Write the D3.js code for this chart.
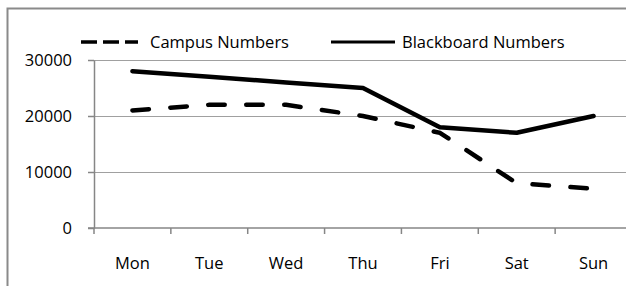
<!DOCTYPE html>
<html>
<head>
<meta charset="utf-8">
<script src="https://cdn.jsdelivr.net/npm/d3@7"></script>
<style>
  body { margin: 0; background: #fff; }
  text { font-family: "Open Sans", sans-serif; font-size: 16.5px; fill: #000; }
</style>
</head>
<body>
<script>
// data
var days = ['Mon', 'Tue', 'Wed', 'Thu', 'Fri', 'Sat', 'Sun'];
var campus = [21000, 22000, 22000, 20000, 17000, 8000, 7000];
var blackboard = [28000, 27000, 26000, 25000, 18000, 17000, 20000];
var yTicks = [0, 10000, 20000, 30000];
var seriesNames = ['Campus Numbers', 'Blackboard Numbers'];

var svg = d3.select('body').append('svg')
  .attr('width', 626)
  .attr('height', 286);

// chart frame (runs off the right and bottom edge)
svg.append('rect')
  .attr('x', 7.5).attr('y', 8.5)
  .attr('width', 700).attr('height', 400)
  .attr('fill', 'none')
  .attr('stroke', '#8a8a8a')
  .attr('stroke-width', 2);

var x = d3.scaleBand().domain(days).range([94, 632]);
var y = d3.scaleLinear().domain([0, 30000]).range([228, 60]);
var cx = d => x(d) + x.bandwidth() / 2;

// gridlines
svg.append('g').selectAll('line')
  .data(yTicks.filter(d => d > 0))
  .enter().append('line')
  .attr('x1', 88).attr('x2', 632)
  .attr('y1', d => y(d) + 0.5).attr('y2', d => y(d) + 0.5)
  .attr('stroke', '#a0a0a0')
  .attr('stroke-width', 1);

// y axis
var yAxis = svg.append('g')
  .attr('transform', 'translate(94,0)')
  .call(d3.axisLeft(y).tickValues(yTicks).tickFormat(d3.format('d'))
    .tickSize(6).tickPadding(16).tickSizeOuter(0));
yAxis.select('.domain').attr('stroke', '#868686').attr('stroke-width', 1.5);
yAxis.selectAll('.tick line').attr('stroke', '#868686').attr('stroke-width', 1.5);
yAxis.selectAll('text')
  .attr('font-family', null).attr('font-size', null)
  .attr('dy', '0.36em');

// x axis, ticks on category boundaries
var xAxis = svg.append('g').attr('transform', 'translate(0,228)');
xAxis.append('line')
  .attr('x1', 88).attr('x2', 632)
  .attr('stroke', '#868686').attr('stroke-width', 1.5);
xAxis.selectAll('.xt')
  .data(days)
  .enter().append('line')
  .attr('class', 'xt')
  .attr('x1', d => x(d)).attr('x2', d => x(d))
  .attr('y1', 0).attr('y2', 6)
  .attr('stroke', '#868686').attr('stroke-width', 1.5);
xAxis.selectAll('text')
  .data(days)
  .enter().append('text')
  .attr('x', cx)
  .attr('y', 41)
  .attr('text-anchor', 'middle')
  .text(d => d);

var line = d3.line()
  .x((d, i) => cx(days[i]))
  .y(d => y(d));

svg.append('path')
  .datum(campus)
  .attr('d', line)
  .attr('fill', 'none')
  .attr('stroke', '#000')
  .attr('stroke-width', 4.5)
  .attr('stroke-linecap', 'round')
  .attr('stroke-dasharray', '16.5,21.5');

svg.append('path')
  .datum(blackboard)
  .attr('d', line)
  .attr('fill', 'none')
  .attr('stroke', '#000')
  .attr('stroke-width', 4.5)
  .attr('stroke-linejoin', 'round')
  .attr('stroke-linecap', 'round');

// legend
var legend = svg.append('g');
legend.append('line')
  .attr('x1', 81).attr('x2', 138).attr('y1', 42).attr('y2', 42)
  .attr('stroke', '#000').attr('stroke-width', 3.5)
  .attr('stroke-dasharray', '16,6');
legend.append('text').attr('x', 150).attr('y', 48).text(seriesNames[0]);
legend.append('line')
  .attr('x1', 331).attr('x2', 395).attr('y1', 42).attr('y2', 42)
  .attr('stroke', '#000').attr('stroke-width', 3);
legend.append('text').attr('x', 402).attr('y', 48).text(seriesNames[1]);
</script>
</body>
</html>
